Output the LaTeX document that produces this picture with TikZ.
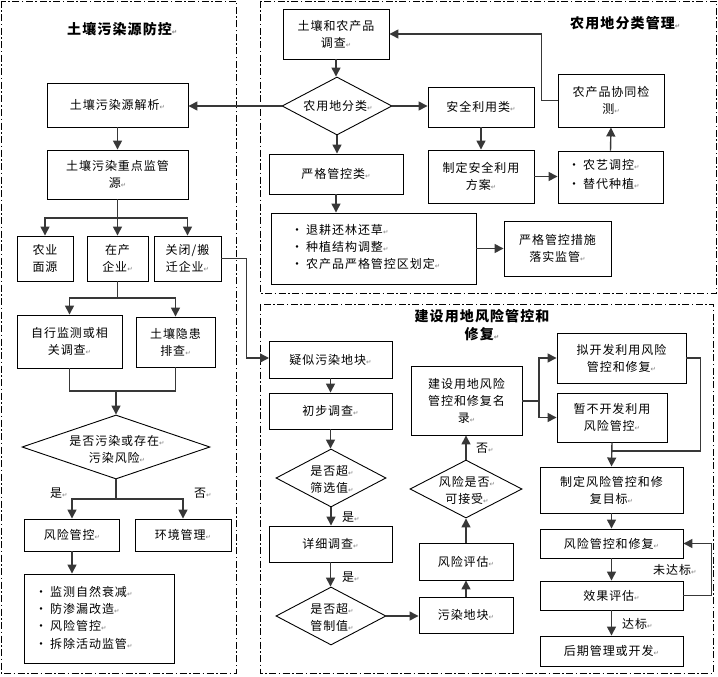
\documentclass[tikz,border=0pt]{standalone}
\usepackage{fontspec}
\setmainfont{Noto Sans CJK SC}[LetterSpace=8]
\newfontfamily\djv{DejaVu Sans}
\usetikzlibrary{arrows.meta,shapes.geometric}
\definecolor{ln}{HTML}{383838}
\newcommand\rt{{\djv\fontsize{6.5}{6.5}\selectfont\textcolor{gray}{\char"21B5}}}
\newcommand\bul{•\hspace{3pt}}
\begin{document}
\begin{tikzpicture}[x=1pt,y=-1pt, font=\fontsize{12}{17}\selectfont,
  box/.style={draw=black, line width=0.9pt, rectangle, inner sep=0pt, align=center},
  dia/.style={draw=black, line width=0.9pt, diamond, inner sep=0pt},
  txt/.style={inner sep=0pt, align=center},
  ltxt/.style={inner sep=0pt, align=left, anchor=west},
  line/.style={draw=ln, line width=1.4pt},
  arr/.style={line, -{Triangle[length=9pt,width=9pt]}},
  panel/.style={draw=black, line width=0.8pt, dash pattern=on 7pt off 2.5pt on 1.5pt off 2.5pt},
  lbl/.style={inner sep=0pt, anchor=west},
  ttl/.style={font=\fontsize{14}{18}\selectfont\bfseries, align=center, inner sep=0pt}]
\useasboundingbox (0,0) rectangle (718,677);
% panels
\draw[panel] (1,1) rectangle (236,673);
\draw[panel] (260,1) rectangle (716,293);
\draw[panel] (260,304) rectangle (713,673);
% titles
\node[ttl, anchor=west] (t1) at (67,29) {土壤污染源防控\rt};
\node[ttl, anchor=west] (t2) at (570,23) {农用地分类管理\rt};
\node[ttl] (t3) at (482,325) {建设用地风险管控和\\修复\rt};

% ---------- left panel ----------
\node[box, minimum width=141pt, minimum height=44pt] (s1) at (117.5,105) {土壤污染源解析\rt};
\node[box, minimum width=141pt, minimum height=49pt] (s2) at (117.5,174.5) {土壤污染重点监管\\源\rt};
\node[box, minimum width=56pt, minimum height=45pt] (s3) at (45,258.5) {农业\\面源};
\node[box, minimum width=61pt, minimum height=45pt] (s4) at (117.5,258.5) {在产\\企业\rt};
\node[box, minimum width=67pt, minimum height=45pt] (s5) at (187.5,258.5) {关闭/搬\\迁企业\rt};
\node[box, minimum width=105pt, minimum height=53pt] (s6) at (69.5,341.5) {自行监测或相\\关调查\rt};
\node[box, minimum width=79pt, minimum height=50pt] (s7) at (175.5,342) {土壤隐患\\排查\rt};
\node[dia, minimum width=188pt, minimum height=64pt] (d1) at (116,447) {};
\node[txt] (d1t) at (117,449) {是否污染或存在\rt\\污染风险\rt};
\node[box, minimum width=95pt, minimum height=32pt] (s8) at (72,535) {风险管控\rt};
\node[box, minimum width=96pt, minimum height=32pt] (s9) at (183,535) {环境管理\rt};
\node[box, minimum width=150pt, minimum height=89pt] (s10) at (99,618.5) {};
\node[ltxt, font=\fontsize{12}{17.4}\selectfont] (s10t) at (35,617.5) {\bul 监测自然衰减\rt\\\bul 防渗漏改造\rt\\\bul 风险管控\rt\\\bul 拆除活动监管\rt};

\coordinate (j1) at (117.5,218);
\coordinate (j2) at (117.5,298);
\coordinate (j3) at (116,391);
\coordinate (j4) at (116,499);
\draw[arr] (s1.south) -- (s2.north);
\draw[line] (s2.south) -- (j1);
\draw[arr] (j1) -| (s3.north);
\draw[arr] (j1) -- (s4.north);
\draw[arr] (j1) -| (s5.north);
\draw[line] (s4.south) -- (j2);
\draw[arr] (j2) -| (s6.north);
\draw[arr] (j2) -| (s7.north);
\draw[line] (s6.south) |- (j3) -| (s7.south);
\draw[arr] (j3) -- (d1.north);
\draw[line] (d1.south) -- (j4);
\draw[arr] (j4) -| (s8.north);
\draw[arr] (j4) -| (s9.north);
\draw[arr] (s8.south) -- (s8.south |- s10.north);
\node[lbl] (ly1) at (50,493) {是\rt};
\node[lbl] (ln1) at (194,493) {否\rt};

% ---------- top right panel ----------
\node[box, minimum width=106pt, minimum height=50pt] (a1) at (336,34) {土壤和农产品\\调查\rt};
\node[dia, minimum width=110pt, minimum height=58pt] (d2) at (337,106) {};
\node[txt] (d2t) at (338,106) {农用地分类\rt};
\node[box, minimum width=106pt, minimum height=40pt] (a2) at (481,107) {安全利用类\rt};
\node[box, minimum width=106pt, minimum height=53pt] (a3) at (481,176.5) {制定安全利用\\方案\rt};
\node[box, minimum width=105pt, minimum height=52pt] (a4) at (610.5,177) {};
\node[ltxt, font=\fontsize{12}{19}\selectfont] (a4t) at (568,174) {\bul 农艺调控\rt\\\bul 替代种植\rt};
\node[box, minimum width=106pt, minimum height=53pt] (a5) at (611,100.5) {农产品协同检\\测\rt};
\node[box, minimum width=134pt, minimum height=40pt] (a6) at (336,174) {严格管控类\rt};
\node[box, minimum width=205pt, minimum height=71pt] (a7) at (373.5,248.5) {};
\node[ltxt, font=\fontsize{12}{17}\selectfont] (a7t) at (291,247) {\bul 退耕还林还草\rt\\\bul 种植结构调整\rt\\\bul 农产品严格管控区划定\rt};
\node[box, minimum width=107pt, minimum height=55pt] (a8) at (557.5,248.5) {严格管控措施\\落实监管\rt};

\draw[arr] (a1.south) -- (a1.south |- d2.north);
\draw[arr] (d2.west) -- (d2.west -| s1.east);
\draw[arr] (d2.east) -- (d2.east -| a2.west);
\draw[arr] (d2.south) -- (d2.south |- a6.north);
\draw[arr] (a2.south) -- (a3.north);
\draw[arr] (a3.east) -- (a3.east -| a4.west);
\draw[arr] (a4.north) -- (a5.south);
\draw[arr] (a5.west) -- ++(-16,0) |- (a1.east);
\draw[arr] (a6.south) -- (a6.south |- a7.north);
\draw[arr] (a7.east) -- (a7.east -| a8.west);
\draw[arr] (s5.east) -- ++(25,0) |- (260,358) -- (269,358);

% ---------- bottom right panel ----------
\node[box, minimum width=123pt, minimum height=37pt] (b1) at (330.5,359.5) {疑似污染地块\rt};
\node[box, minimum width=123pt, minimum height=36pt] (b2) at (330.5,411) {初步调查\rt};
\node[dia, minimum width=110pt, minimum height=58pt] (d3) at (331,478) {};
\node[txt] (d3t) at (332,479) {是否超\rt\\筛选值\rt};
\node[box, minimum width=123pt, minimum height=36pt] (b3) at (330.5,544) {详细调查\rt};
\node[dia, minimum width=110pt, minimum height=58pt] (d4) at (331,616) {};
\node[txt] (d4t) at (332,617) {是否超\rt\\管制值\rt};
\node[box, minimum width=94pt, minimum height=36pt] (b4) at (466,615) {污染地块\rt};
\node[box, minimum width=94pt, minimum height=37pt] (b5) at (466,561.5) {风险评估\rt};
\node[dia, minimum width=112pt, minimum height=58pt] (d5) at (466,489) {};
\node[txt] (d5t) at (467,490) {风险是否\rt\\可接受\rt};
\node[box, minimum width=111pt, minimum height=69pt] (b6) at (466.5,400.5) {建设用地风险\\管控和修复名\\录\rt};
\node[box, minimum width=129pt, minimum height=50pt] (b7) at (621.5,358) {拟开发利用风险\\管控和修复\rt};
\node[box, minimum width=110pt, minimum height=49pt] (b8) at (612,417.5) {暂不开发利用\\风险管控\rt};
\node[box, minimum width=143pt, minimum height=46pt] (b9) at (611.5,490) {制定风险管控和修\\复目标\rt};
\node[box, minimum width=143pt, minimum height=29pt] (b10) at (611.5,543.5) {风险管控和修复\rt};
\node[box, minimum width=143pt, minimum height=29pt] (b11) at (611.5,595.5) {效果评估\rt};
\node[box, minimum width=143pt, minimum height=30pt] (b12) at (611.5,651) {后期管理或开发\rt};

\coordinate (j5) at (539,401);
\coordinate (j6) at (612,451);
\draw[arr] (b1.south) -- (b2.north);
\draw[arr] (b2.south) -- (b2.south |- d3.north);
\draw[arr] (d3.south) -- (d3.south |- b3.north);
\draw[arr] (b3.south) -- (b3.south |- d4.north);
\draw[arr] (d4.east) -- (d4.east -| b4.west);
\draw[arr] (b4.north) -- (b5.south);
\draw[arr] (b5.north) -- (d5.south);
\draw[arr] (d5.north) -- (d5.north |- b6.south);
\draw[line] (b6.east |- j5) -- (j5);
\draw[arr] (j5) |- (b7.west);
\draw[arr] (j5) |- (b8.west);
\draw[line] (b7.east) -- ++(14,0) |- (j6);
\draw[arr] (b8.south) -- (b9.north);
\draw[arr] (b9.south) -- (b10.north);
\draw[arr] (b10.south) -- (b11.north);
\draw[arr] (b11.east) -- ++(28,0) |- (b10.east);
\draw[arr] (b11.south) -- (b12.north);
\node[lbl] (ly2) at (342,517) {是\rt};
\node[lbl] (ly3) at (342,577) {是\rt};
\node[lbl] (ln2) at (476,448) {否\rt};
\node[lbl] (lw) at (653,570) {未达标\rt};
\node[lbl] (lo) at (622,624) {达标\rt};
\end{tikzpicture}
\end{document}
